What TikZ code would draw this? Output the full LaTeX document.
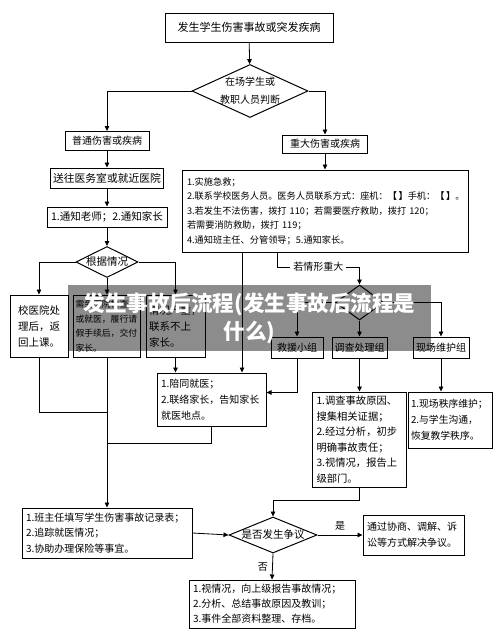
\documentclass[tikz,border=0pt]{standalone}
\usepackage{fontspec}
\newfontfamily\cjk{Noto Sans CJK SC}
\usetikzlibrary{shapes.geometric,arrows.meta,calc}
\tikzset{
  bx/.style={draw, line width=1pt, inner sep=2pt, font=\cjk\fontsize{10}{15}\selectfont, align=center},
  lbx/.style={bx, align=left, inner xsep=4pt},
  dm/.style={draw, diamond, line width=1pt, inner sep=0pt, font=\cjk\fontsize{10}{14}\selectfont},
  arr/.style={line width=0.8pt, -{Triangle[length=5pt,width=4.5pt]}},
  ln/.style={line width=0.8pt},
  lbl/.style={fill=white, inner sep=3pt, font=\cjk\fontsize{10}{12}\selectfont},
  wm/.style={fill=black, fill opacity=0.45, text opacity=1, text=white, inner sep=0pt,
     font=\cjk\bfseries\fontsize{21.5}{28}\selectfont, align=center}
}
\begin{document}
\begin{tikzpicture}[x=1pt,y=-1pt]
\useasboundingbox (0,0) rectangle (500,637);
\fill[white] (0,0) rectangle (500,637);

% coordinates
\coordinate (x242) at (242,0);
\coordinate (x277) at (277,0);
\coordinate (y267) at (0,267);
\coordinate (j1) at (107,412);
\coordinate (j2) at (107,443);

% top
\node[bx, minimum width=168, minimum height=29, font=\cjk\fontsize{11}{14}\selectfont] (top) at (249,27.5) {发生学生伤害事故或突发疾病};
\node[dm, minimum width=116, minimum height=53, font=\cjk\fontsize{10}{18}\selectfont] (d1) at (250,91)
  {\makebox[0pt]{\begin{tabular}{@{}c@{}}在场学生或\\教职人员判断\end{tabular}}};

% left branch
\node[bx, minimum width=84, minimum height=19] (n3) at (107,141) {普通伤害或疾病};
\node[bx, minimum width=113, minimum height=20, font=\cjk\fontsize{10.8}{14}\selectfont] (n4) at (107,178) {送往医务室或就近医院};
\node[bx, minimum width=120, minimum height=20, font=\cjk\fontsize{10.5}{14}\selectfont] (n5) at (107,217) {1.通知老师；2.通知家长};
\node[dm, minimum width=62, minimum height=31, font=\cjk\fontsize{10.5}{14}\selectfont] (d2) at (107,262) {\makebox[0pt]{根据情况}};

\node[bx, minimum width=58, minimum height=62, font=\cjk\fontsize{10.5}{16}\selectfont] (lb1) at (39,326) {校医院处\\理后，返\\回上课。};
\node[lbx, inner xsep=2pt, text width=63, minimum height=62, font=\cjk\fontsize{8.8}{14.7}\selectfont] (lb2) at (107,326) {需到医院检查\\或就医，履行请\\假手续后，交付\\家长。};
\node[lbx, inner xsep=3pt, text width=53, minimum height=62, font=\cjk\fontsize{10.5}{16}\selectfont] (lb3) at (175.5,326) {情况严重，\\联系不上\\家长。};

\node[lbx, text width=101, minimum height=53, font=\cjk\fontsize{10}{16}\selectfont] (pei) at (211.5,399.5) {1.陪同就医；\\2.联络家长，告知家长\\就医地点。};

% right branch
\node[bx, minimum width=85, minimum height=18] (zd) at (325,144) {重大伤害或疾病};
\node[lbx, inner xsep=5pt, text width=276, minimum height=82, font=\cjk\fontsize{9.2}{14.5}\selectfont] (big) at (325,211)
  {1.实施急救；\\
   2.联系学校医务人员。医务人员联系方式：座机：\textbf{【}\,\textbf{】}手机：\textbf{【}\,\textbf{】}。\\
   3.若发生不法伤害，拨打 110；若需要医疗救助，拨打 120；\\
   若需要消防救助，拨打 119；\\
   4.通知班主任、分管领导；5.通知家长。};

\node[dm, minimum width=48, minimum height=35] (d3) at (359.5,302.5) {};
\node[bx, minimum width=52, minimum height=21] (jy) at (297,347.5) {救援小组};
\node[bx, minimum width=55, minimum height=21] (dc) at (359.5,347.5) {调查处理组};
\node[bx, minimum width=56, minimum height=21] (xc) at (441,347.5) {现场维护组};

\node[lbx, text width=86, minimum height=95, font=\cjk\fontsize{10.3}{15.5}\selectfont] (dcbox) at (359.5,439.5)
  {1.调查事故原因、\\搜集相关证据；\\2.经过分析，初步\\明确事故责任；\\3.视情况，报告上\\级部门。};
\node[lbx, inner xsep=3pt, text width=78, minimum height=56, font=\cjk\fontsize{9.8}{16}\selectfont] (xcbox) at (450,420)
  {1.现场秩序维护；\\2.与学生沟通，\\恢复教学秩序。};

% bottom
\node[lbx, text width=162, minimum height=50, font=\cjk\fontsize{10}{15.5}\selectfont] (bzr) at (107,533)
  {1.班主任填写学生伤害事故记录表；\\2.追踪就医情况；\\3.协助办理保险等事宜。};
\node[dm, minimum width=88, minimum height=36, font=\cjk\fontsize{10.5}{14}\selectfont] (d4) at (273,535) {\makebox[0pt]{是否发生争议}};
\node[lbx, text width=93, minimum height=40, font=\cjk\fontsize{10}{16}\selectfont] (xs) at (413.5,535)
  {通过协商、调解、诉\\讼等方式解决争议。};
\node[lbx, text width=158, minimum height=48, font=\cjk\fontsize{10}{15}\selectfont] (bt) at (272,604)
  {1.视情况，向上级报告事故情况；\\2.分析、总结事故原因及教训；\\3.事件全部资料整理、存档。};

% connectors
\draw[arr] (top) -- (d1);
\draw[arr] (d1.west) -| (n3.north);
\draw[arr] (d1.east) -| (zd.north);
\draw[arr] (zd) -- (big);
\draw[arr] (n3) -- (n4);
\draw[arr] (n4) -- (n5);
\draw[arr] (n5) -- (d2);
\draw[arr] (d2.west) -| (lb1.north);
\draw[arr] (d2.south) -- (lb2.north);
\draw[arr] (d2.east) -| (lb3.north);
\draw[ln] (lb1.south) |- (j1);
\draw[arr] (lb2.south) -- (bzr.north);
\draw[arr] (lb3.south) -- (lb3.south |- pei.north);
\draw[arr] (big.south -| x242) -- (pei.north -| x242);
\draw[arr] (jy.south) |- ([yshift=7pt]pei.east);
\draw[ln] (pei.south) |- (j2);
\draw[arr] (big.south -| x277) |- node[lbl, pos=0.75] (ruoqing) {若情形重大} (y267 -| d3.north) -- (d3.north);
\draw[arr] (d3.west) -| (jy.north);
\draw[arr] (d3.south) -- (dc.north);
\draw[arr] (d3.east) -| (xc.north);
\draw[arr] (dc) -- (dcbox);
\draw[arr] (xc.south) -- (xc.south |- xcbox.north);
\draw[arr] (dcbox.south) -- ++(0,13) -| (d4.north);
\draw[arr] (bzr.east) -- (d4.west);
\draw[arr] (d4.east) -- node[above=1pt, font=\cjk\fontsize{10}{12}\selectfont] (shi) {是} (xs.west);
\draw[arr] (d4.south) -- node[left=1pt, font=\cjk\fontsize{10}{12}\selectfont] (fou) {否} (bt.north);

% watermark banner
\node[wm, minimum width=363, minimum height=66] (banner) at (249.5,318) {发生事故后流程(发生事故后流程是\\什么)};
\end{tikzpicture}
\end{document}
